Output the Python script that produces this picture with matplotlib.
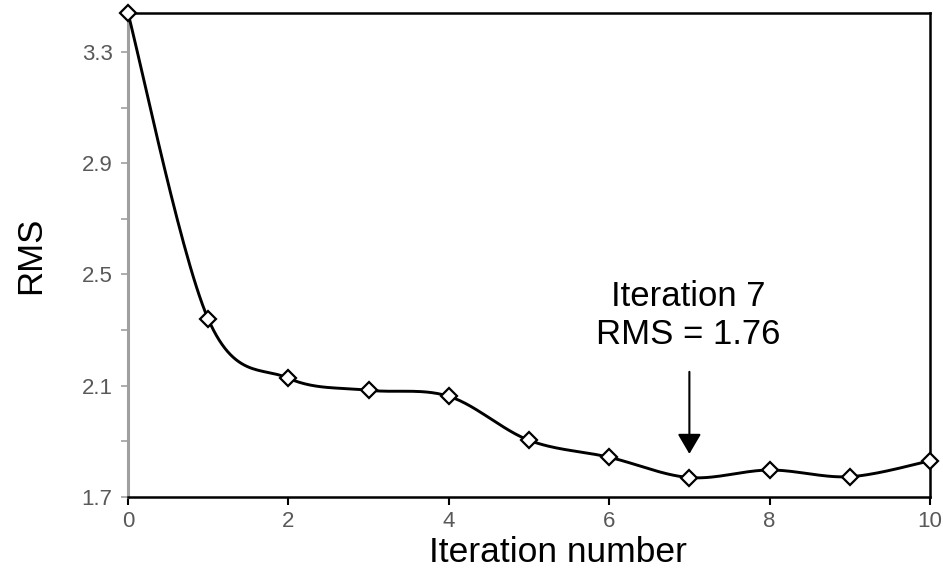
import numpy as np
import matplotlib
matplotlib.use("Agg")
import matplotlib.pyplot as plt
from matplotlib.ticker import FixedLocator

iterations = [0, 1, 2, 3, 4, 5, 6, 7, 8, 9, 10]
rms = [3.44, 2.34, 2.127, 2.084, 2.062, 1.904, 1.843, 1.77, 1.797, 1.773, 1.83]
ytick_major = [1.7, 2.1, 2.5, 2.9, 3.3]
ytick_minor = [1.9, 2.3, 2.7, 3.1]
xticks = [0, 2, 4, 6, 8, 10]
annot_text = "Iteration 7\nRMS = 1.76"

FONT = "Liberation Sans"


def smooth(xs, ys, n=30):
    # Catmull-Rom style Bezier smoothing (like spreadsheet "smoothed line")
    xs = np.asarray(xs, float); ys = np.asarray(ys, float)
    px = np.concatenate([[xs[0]], xs, [xs[-1]]])
    py = np.concatenate([[ys[0]], ys, [ys[-1]]])
    ox, oy = [], []
    for i in range(1, len(px) - 2):
        p0 = np.array([px[i - 1], py[i - 1]]); p1 = np.array([px[i], py[i]])
        p2 = np.array([px[i + 1], py[i + 1]]); p3 = np.array([px[i + 2], py[i + 2]])
        c1 = p1 + (p2 - p0) / 6.0
        c2 = p2 - (p3 - p1) / 6.0
        t = np.linspace(0, 1, n)[:, None]
        b = ((1 - t) ** 3) * p1 + 3 * ((1 - t) ** 2) * t * c1 + 3 * (1 - t) * t ** 2 * c2 + t ** 3 * p2
        ox.extend(b[:, 0]); oy.extend(b[:, 1])
    return np.array(ox), np.array(oy)


fig = plt.figure(figsize=(9.43, 5.72), dpi=100)
ax = fig.add_axes([0.1357, 0.1311, 0.8505, 0.8462])

sx, sy = smooth(iterations, rms)
ax.plot(sx, sy, color="black", lw=2.1, zorder=3, clip_on=False)
ax.plot(iterations, rms, linestyle="none", marker="D", ms=8, mfc="white",
        mec="black", mew=1.6, zorder=4, clip_on=False)

ax.set_xlim(0, 10)
ax.set_ylim(1.7, 3.44)
ax.xaxis.set_major_locator(FixedLocator(xticks))
ax.yaxis.set_major_locator(FixedLocator(ytick_major))
ax.yaxis.set_minor_locator(FixedLocator(ytick_minor))
ax.set_yticklabels([f"{v:.1f}" for v in ytick_major])
ax.set_xticklabels([str(v) for v in xticks])

for s in ["top", "right", "bottom"]:
    ax.spines[s].set_color("black")
    ax.spines[s].set_linewidth(1.8)
ax.spines["left"].set_color("#a0a0a0")
ax.spines["left"].set_linewidth(2.2)

ax.tick_params(axis="x", direction="out", length=6, width=1.5, color="black",
               labelsize=16, labelcolor="#595959", pad=4)
ax.tick_params(axis="y", which="both", direction="out", length=5, width=1.2,
               color="#a0a0a0", labelsize=16, labelcolor="#595959", pad=6)

for lab in ax.get_xticklabels() + ax.get_yticklabels():
    lab.set_family(FONT)

# axis titles
fig.text(558 / 943, 1 - 552 / 572, "Iteration number", ha="center", va="center",
         fontsize=25.5, family=FONT)
fig.text(31 / 943, 1 - 255 / 572, "RMS", ha="center", va="center",
         rotation=90, fontsize=25, family=FONT)

ax.text(6.98, 2.353, annot_text, ha="center", va="center", fontsize=25,
        linespacing=1.2, family=FONT)
ax.annotate("", xy=(7, 1.855), xytext=(7, 2.15),
            arrowprops=dict(arrowstyle="-|>,head_length=0.85,head_width=0.5",
                            color="black", lw=1.5,
                            mutation_scale=14.4, shrinkA=0, shrinkB=0))

fig.savefig("out.png", dpi=100)
